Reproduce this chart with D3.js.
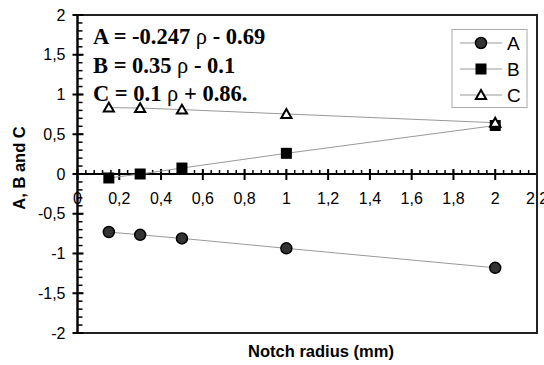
<!DOCTYPE html>
<html>
<meta charset="utf-8">
<style>
body{ margin:0; background:#fff; }
.eq{ font:bold 22.5px "Liberation Serif", "Times New Roman", serif; }
.lab{ font:bold 16.5px "Liberation Sans", Arial, sans-serif; }
.leg{ font:19px "Liberation Sans", Arial, sans-serif; }
</style>
<body>
<svg width="544" height="365"></svg>
<script src="https://d3js.org/d3.v7.min.js"></script>
<script>

var radius = [0.15, 0.3, 0.5, 1, 2];
var seriesA = [-0.73, -0.765, -0.81, -0.935, -1.18];
var seriesB = [-0.05, 0.0, 0.075, 0.26, 0.61];
var seriesC = [0.835, 0.83, 0.81, 0.755, 0.645];
var names = ["A", "B", "C"];
var equations = ["A = -0.247 \u03c1 - 0.69", "B = 0.35 \u03c1 - 0.1", "C = 0.1 \u03c1 + 0.86."];
var xTicks = [0, 0.2, 0.4, 0.6, 0.8, 1, 1.2, 1.4, 1.6, 1.8, 2, 2.2];
var yTicks = [-2, -1.5, -1, -0.5, 0, 0.5, 1, 1.5, 2];

var svg = d3.select("svg"),
    pl = 77.5, pr = 537, pt = 15, pb = 333;

var x = d3.scaleLinear().domain([0, 2.2]).range([pl, pr]);
var y = d3.scaleLinear().domain([-2, 2]).range([pb, pt]);
var fmt = function(d){ return String(d).replace(".", ","); };
var tickFont = "16px 'Liberation Sans', Arial, sans-serif";

// frame
svg.append("rect")
    .attr("x", pl).attr("y", pt)
    .attr("width", pr - pl).attr("height", pb - pt)
    .attr("fill", "none").attr("stroke", "#222").attr("stroke-width", 2);

// y axis ticks
var g = svg.append("g");
d3.range(-2, 2.001, 0.1).forEach(function(v){
  g.append("line").attr("x1", pl).attr("x2", pl + 5)
    .attr("y1", y(v)).attr("y2", y(v)).attr("stroke", "#000").attr("stroke-width", 1.5);
});
yTicks.forEach(function(v){
  g.append("line").attr("x1", pl - 5).attr("x2", pl + 6)
    .attr("y1", y(v)).attr("y2", y(v)).attr("stroke", "#000").attr("stroke-width", 2);
  g.append("text").attr("x", pl - 12).attr("y", y(v)).attr("dy", "0.35em")
    .attr("text-anchor", "end").style("font", tickFont)
    .text(fmt(v));
});

// x axis through zero
var y0 = y(0);
d3.range(0, 2.2001, 0.04).forEach(function(v){
  g.append("line").attr("x1", x(v)).attr("x2", x(v))
    .attr("y1", y0 - 4).attr("y2", y0).attr("stroke", "#000").attr("stroke-width", 1.5);
});
xTicks.forEach(function(v){
  g.append("line").attr("x1", x(v)).attr("x2", x(v))
    .attr("y1", y0 - 5).attr("y2", y0 + 6).attr("stroke", "#000").attr("stroke-width", 2);
  g.append("text").attr("x", x(v)).attr("y", y0 + 30)
    .attr("text-anchor", "middle").style("font", tickFont)
    .text(fmt(v));
});
g.append("line").attr("x1", pl).attr("x2", pr).attr("y1", y0).attr("y2", y0)
  .attr("stroke", "#000").attr("stroke-width", 2);
g.append("line").attr("x1", pl).attr("x2", pl).attr("y1", pt).attr("y2", pb)
  .attr("stroke", "#000").attr("stroke-width", 2);
g.append("line").attr("x1", pr).attr("x2", pr).attr("y1", pt).attr("y2", pb)
  .attr("stroke", "#222").attr("stroke-width", 2);

// series
var data = [seriesA, seriesB, seriesC];
var line = d3.line().x(function(d, i){ return x(radius[i]); }).y(function(d){ return y(d); });
data.forEach(function(s){
  svg.append("path").attr("d", line(s)).attr("fill", "none")
    .attr("stroke", "#999").attr("stroke-width", 1);
});

function marker(sel, k, cx, cy){
  if (k == 0) {
    sel.append("circle").attr("cx", cx).attr("cy", cy).attr("r", 5.5)
      .attr("fill", "#333").attr("stroke", "#000").attr("stroke-width", 1.5);
  } else if (k == 1) {
    sel.append("rect").attr("x", cx - 5.5).attr("y", cy - 5.5).attr("width", 11).attr("height", 11)
      .attr("fill", "#000");
  } else {
    sel.append("path").attr("d", d3.symbol(d3.symbolTriangle, 45)())
      .attr("transform", "translate(" + cx + "," + (cy + 1) + ")")
      .attr("fill", "#fff").attr("stroke", "#000").attr("stroke-width", 2);
  }
}
data.forEach(function(s, k){
  s.forEach(function(v, i){ marker(svg, k, x(radius[i]), y(v)); });
});

// equations
equations.forEach(function(t, i){
  var parts = t.split("\u03c1");
  var txt = svg.append("text").attr("class", "eq").attr("x", 93).attr("y", 44 + i * 28.5);
  txt.append("tspan").text(parts[0]);
  txt.append("tspan").style("font-weight", "normal").text("\u03c1");
  txt.append("tspan").text(parts[1]);
});

// legend
var lg = svg.append("g");
lg.append("rect").attr("x", 452).attr("y", 29.5).attr("width", 75).attr("height", 78)
  .attr("fill", "#fff").attr("stroke", "#aaa").attr("stroke-width", 1);
names.forEach(function(n, k){
  var ly = 43 + k * 26;
  lg.append("line").attr("x1", 460).attr("x2", 502).attr("y1", ly).attr("y2", ly)
    .attr("stroke", "#999").attr("stroke-width", 1);
  marker(lg, k, 481, ly);
  lg.append("text").attr("class", "leg").attr("x", 507).attr("y", ly).attr("dy", "0.36em").text(n);
});

// axis titles
svg.append("text").attr("class", "lab").attr("x", 321).attr("y", 357)
  .attr("text-anchor", "middle").text("Notch radius (mm)");
svg.append("text").attr("class", "lab")
  .attr("transform", "translate(25,168) rotate(-90)")
  .attr("text-anchor", "middle").text("A, B and C");

</script>
</body>
</html>
